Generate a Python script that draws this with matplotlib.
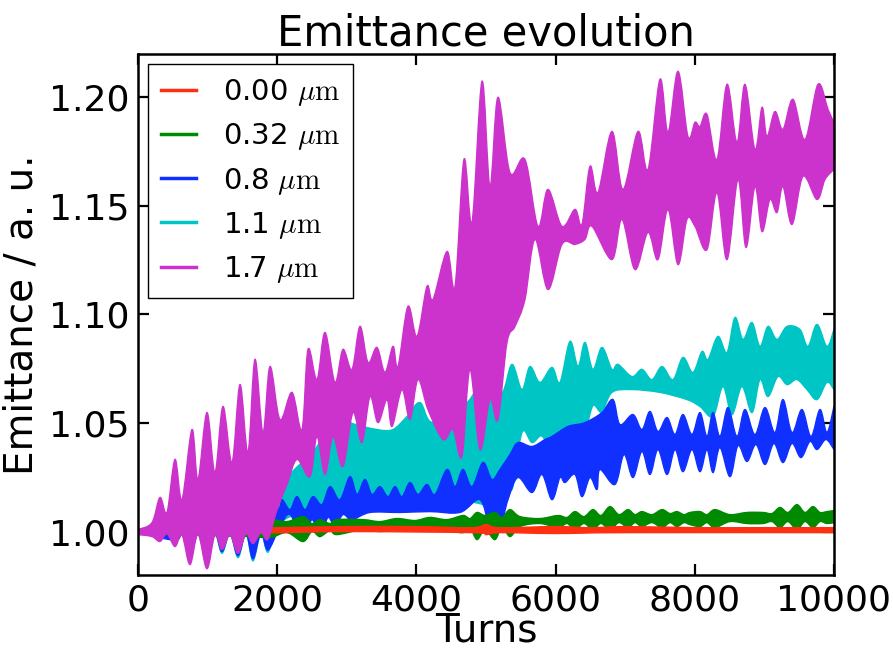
import numpy as np
import matplotlib
matplotlib.use('Agg')
import matplotlib.pyplot as plt
from matplotlib.lines import Line2D
from matplotlib.path import Path
from matplotlib.patches import PathPatch

plt.rcParams['mathtext.fontset'] = 'cm'

# envelope of the oscillating emittance for each offset (upper / lower edge)
labels = [r'0.00 $\mu\mathrm{m}$', r'0.32 $\mu\mathrm{m}$', r'0.8 $\mu\mathrm{m}$',
          r'1.1 $\mu\mathrm{m}$', r'1.7 $\mu\mathrm{m}$']
colors = ['#ff3010', '#008a00', '#1030ff', '#00c5c5', '#cc33cc']

# 0.00 um
r_hi_t = [0, 2000, 3000, 4000, 4800, 5000, 5200, 6000, 6500, 7000, 8000, 9000, 10000]
r_hi = [1.0009, 1.0018, 1.0023, 1.0023, 1.0018, 1.0032, 1.0018, 1.0023, 1.0018, 1.0023, 1.0018, 1.0018, 1.0018]
r_lo_t = [0, 2000, 3000, 4800, 5000, 5200, 6000, 7000, 10000]
r_lo = [0.9991, 0.9995, 1.0000, 0.9995, 0.9986, 0.9995, 0.9991, 0.9995, 0.9995]

# 0.32 um
g_hi_t = [0, 891, 1609, 1897, 2141, 2371, 2500, 2615, 2759, 2859, 3233, 3477, 3721, 3980,
          4195, 4440, 4670, 4770, 4871, 4986, 5129, 5230, 5345, 5489, 5776, 6034, 6164,
          6279, 6408, 6537, 6652, 6782, 6911, 7040, 7141, 7241, 7385, 7529, 7644, 7744,
          7845, 7931, 8075, 8175, 8290, 8506, 8750, 8980, 9109, 9224, 9339, 9468, 9583,
          9698, 9799, 9899, 10000]
g_hi = [1.0009, 1.0023, 1.0032, 1.0055, 1.0046, 1.0069, 1.0037, 1.0055, 1.0037, 1.0055,
        1.0055, 1.0046, 1.0060, 1.0051, 1.0065, 1.0055, 1.0074, 1.0060, 1.0088, 1.0074,
        1.0088, 1.0065, 1.0101, 1.0069, 1.0060, 1.0074, 1.0065, 1.0092, 1.0069, 1.0101,
        1.0074, 1.0115, 1.0078, 1.0101, 1.0078, 1.0092, 1.0078, 1.0101, 1.0083, 1.0092,
        1.0078, 1.0088, 1.0092, 1.0078, 1.0101, 1.0078, 1.0088, 1.0088, 1.0083, 1.0111,
        1.0088, 1.0124, 1.0088, 1.0115, 1.0088, 1.0092, 1.0097]
g_lo_t = g_hi_t
g_lo = [0.9991, 0.9982, 0.9977, 0.9972, 0.9995, 0.9954, 1.0000, 0.9977, 1.0005, 0.9986,
        1.0009, 1.0000, 1.0009, 1.0005, 1.0009, 1.0005, 0.9995, 1.0018, 0.9963, 1.0009,
        0.9963, 1.0023, 0.9977, 1.0023, 1.0037, 1.0018, 1.0037, 1.0009, 1.0037, 1.0009,
        1.0037, 1.0009, 1.0041, 1.0018, 1.0041, 1.0023, 1.0041, 1.0018, 1.0041, 1.0023,
        1.0041, 1.0032, 1.0023, 1.0041, 1.0018, 1.0046, 1.0037, 1.0037, 1.0046, 1.0018,
        1.0046, 1.0009, 1.0046, 1.0018, 1.0046, 1.0037, 1.0041]

# 0.8 um
b_hi_t = [0, 891, 1609, 2000, 2069, 2184, 2284, 2399, 2514, 2644, 2759, 2902, 3046, 3147,
          3261, 3362, 3477, 3592, 3693, 3793, 3908, 4023, 4152, 4267, 4440, 4555, 4670,
          4799, 4957, 5086, 5201, 5345, 5460, 5661, 5848, 5948, 6178, 6422, 6667, 6825,
          6925, 7112, 7241, 7356, 7471, 7601, 7716, 7830, 7960, 8075, 8175, 8262, 8362,
          8477, 8606, 8721, 8865, 9009, 9152, 9267, 9397, 9540, 9670, 9799, 9899, 10000]
b_hi = [1.0005, 1.0046, 1.0078, 1.0101, 1.0147, 1.0101, 1.0161, 1.0101, 1.0161, 1.0124,
        1.0207, 1.0147, 1.0253, 1.0171, 1.0240, 1.0171, 1.0207, 1.0161, 1.0207, 1.0161,
        1.0226, 1.0171, 1.0217, 1.0171, 1.0286, 1.0207, 1.0286, 1.0207, 1.0318, 1.0240,
        1.0286, 1.0355, 1.0410, 1.0392, 1.0424, 1.0438, 1.0484, 1.0502, 1.0548, 1.0608,
        1.0493, 1.0539, 1.0470, 1.0553, 1.0461, 1.0525, 1.0447, 1.0539, 1.0447, 1.0548,
        1.0438, 1.0548, 1.0438, 1.0571, 1.0438, 1.0562, 1.0447, 1.0571, 1.0456, 1.0608,
        1.0456, 1.0562, 1.0438, 1.0562, 1.0456, 1.0576]
b_lo_t = [0, 532, 632, 747, 862, 991, 1106, 1207, 1322, 1437, 1552, 1652, 1767, 1868,
          2040, 2184, 2371, 2500, 2615, 2730, 2830,
          2945, 3075, 3334, 3764, 4195, 4626, 4914, 5057, 5201, 5316, 5460, 5661, 5805,
          5948, 6063, 6135, 6279, 6379, 6494, 6595, 6638, 6853, 6983, 7112, 7241, 7356,
          7471, 7601, 7716, 7830, 7960, 8075, 8175, 8262, 8362, 8506, 8621, 8750, 8879,
          9009, 9138, 9267, 9397, 9526, 9655, 9756, 9885, 10000]
b_lo = [0.9995, 0.9960, 0.9992, 0.9885, 0.9992, 0.9880, 0.9992, 0.9908, 0.9992, 0.9890,
        0.9992, 0.9875, 0.9995, 0.9915,
        1.0023, 1.0078, 0.9963,
        1.0055, 0.9977, 1.0065, 1.0023, 1.0078, 1.0055, 1.0088, 1.0088, 1.0092, 1.0088,
        1.0147, 1.0018, 1.0018, 1.0147, 1.0249, 1.0180, 1.0263, 1.0147, 1.0249, 1.0226,
        1.0263, 1.0161, 1.0249, 1.0194, 1.0286, 1.0217, 1.0355, 1.0249, 1.0369, 1.0263,
        1.0378, 1.0263, 1.0378, 1.0276, 1.0378, 1.0276, 1.0378, 1.0272, 1.0387, 1.0253,
        1.0396, 1.0323, 1.0401, 1.0309, 1.0406, 1.0318, 1.0406, 1.0341, 1.0415, 1.0378,
        1.0424, 1.0378]

# 1.1 um
c_hi_t = [0, 891, 1466, 1897, 2011, 2213, 2543, 2859, 3046, 3434, 3664, 3865, 4052, 4239,
          4727, 4914, 5057, 5230, 5374, 5517, 5632, 5776, 5948, 6063, 6207, 6322, 6422,
          6537, 6667, 6810, 6897, 7098, 7241, 7385, 7529, 7687, 7830, 7974, 8103, 8190,
          8333, 8463, 8578, 8693, 8822, 8937, 9052, 9181, 9325, 9511, 9626, 9756, 9899, 10000]
c_hi = [1.0009, 1.0055, 1.0124, 1.0171, 1.0147, 1.0272, 1.0378, 1.0548, 1.0502, 1.0470,
        1.0470, 1.0530, 1.0594, 1.0502, 1.0594, 1.0700, 1.0760, 1.0641, 1.0770, 1.0654,
        1.0760, 1.0687, 1.0756, 1.0687, 1.0876, 1.0760, 1.0871, 1.0747, 1.0848, 1.0747,
        1.0770, 1.0714, 1.0747, 1.0700, 1.0760, 1.0700, 1.0802, 1.0733, 1.0829, 1.0793,
        1.0899, 1.0825, 1.0986, 1.0885, 1.0963, 1.0853, 1.0945, 1.0885, 1.0945, 1.0931,
        1.0853, 1.0954, 1.0853, 1.0931]
c_lo_t = [0, 640, 747, 862, 991, 1106, 1207, 1322, 1437, 1552, 1652, 1767, 1868, 2011,
          2471, 3089, 4052, 4957, 5101, 5244, 5374, 5517, 5661, 5805, 5948, 6063, 6207,
          6322, 6422, 6537, 6667, 6810, 7098, 7500, 7888, 8075, 8262, 8405, 8534, 8678,
          8822, 8937, 9052, 9195, 9325, 9468, 9612, 9756, 9899, 10000]
c_lo = [0.9991, 0.9990, 0.9875, 0.9990, 0.9870, 0.9990, 0.9900, 0.9990, 0.9880, 0.9990,
        0.9865, 0.9992, 0.9905, 1.0032, 1.0101, 1.0124, 1.0147, 1.0124, 1.0023, 1.0286,
        1.0194, 1.0456, 1.0410, 1.0440, 1.0364, 1.0470, 1.0400, 1.0500, 1.0460, 1.0580,
        1.0550, 1.0641, 1.0654, 1.0641, 1.0608, 1.0576, 1.0530, 1.0668, 1.0539, 1.0668,
        1.0548, 1.0700, 1.0622, 1.0714, 1.0677, 1.0700, 1.0654, 1.0608, 1.0687, 1.0654]

# 1.7 um
m_hi_t = [0, 201, 316, 417, 532, 632, 776, 862, 991, 1106, 1221, 1351, 1466, 1580, 1681,
          1796, 1897, 2040, 2213, 2356, 2443, 2572, 2687, 2830, 2945, 3075, 3190, 3305,
          3434, 3549, 3664, 3736, 3879, 4009, 4152, 4239, 4440, 4555, 4684, 4799, 4943,
          5057, 5172, 5345, 5560, 5747, 5891, 6092, 6279, 6379, 6494, 6609, 6810, 6968,
          7184, 7328, 7500, 7615, 7759, 7902, 8003, 8075, 8175, 8319, 8463, 8606, 8721,
          8865, 8966, 9037, 9152, 9267, 9411, 9583, 9770, 9914, 10000]
m_hi = [1.0009, 1.0041, 1.0157, 1.0088, 1.0332, 1.0147, 1.0470, 1.0240, 1.0548, 1.0272,
        1.0576, 1.0318, 1.0677, 1.0364, 1.0793, 1.0456, 1.0760, 1.0516, 1.0641, 1.0470,
        1.0839, 1.0700, 1.0917, 1.0687, 1.0839, 1.0747, 1.0945, 1.0779, 1.0848, 1.0733,
        1.0853, 1.0760, 1.1037, 1.0899, 1.1129, 1.1069, 1.1290, 1.1129, 1.1714, 1.1424,
        1.2074, 1.1590, 1.2000, 1.1654, 1.1714, 1.1406, 1.1576, 1.1406, 1.1484, 1.1415,
        1.1682, 1.1562, 1.1843, 1.1576, 1.1843, 1.1668, 1.2083, 1.1839, 1.2120, 1.1820,
        1.1885, 1.1866, 1.1922, 1.1714, 1.2060, 1.1793, 1.2060, 1.1760, 1.1954, 1.1820,
        1.1935, 1.1853, 1.1991, 1.1806, 1.2060, 1.1945, 1.1885]
m_lo_t = [0, 201, 316, 417, 532, 632, 747, 862, 991, 1106, 1207, 1322, 1437, 1552, 1652,
          1767, 1868, 1997, 2141, 2284, 2471, 2572, 2687, 2802, 2945, 3089, 3218, 3334,
          3448, 3578, 3650, 3793, 3908, 4023, 4167, 4382, 4526, 4655, 4770, 4914, 5057,
          5172, 5302, 5417, 5560, 5704, 5891, 6092, 6279, 6422, 6523, 6810, 6954, 7141,
          7328, 7471, 7615, 7759, 7888, 8003, 8175, 8319, 8463, 8621, 8736, 8865, 8966,
          9080, 9181, 9267, 9397, 9555, 9756, 9871, 10000]
m_lo = [0.9986, 0.9977, 0.9954, 0.9990, 0.9931, 0.9985, 0.9848, 0.9988, 0.9829, 0.9985,
        0.9917, 0.9985, 0.9900, 0.9990, 0.9945, 0.9995, 0.9965, 1.0100, 1.0217, 1.0332,
        1.0253, 1.0438, 1.0263, 1.0438, 1.0300, 1.0548, 1.0410, 1.0622, 1.0502, 1.0608,
        1.0484, 1.0654, 1.0516, 1.0700, 1.0562, 1.0424, 1.0470, 1.0346, 1.0747, 1.0378,
        1.0608, 1.0516, 1.0871, 1.0945, 1.1069, 1.1346, 1.1115, 1.1323, 1.1323, 1.1346,
        1.1406, 1.1253, 1.1438, 1.1207, 1.1378, 1.1253, 1.1484, 1.1230, 1.1438, 1.1406,
        1.1299, 1.1562, 1.1253, 1.1622, 1.1309, 1.1590, 1.1382, 1.1530, 1.1470, 1.1590,
        1.1415, 1.1636, 1.1530, 1.1622, 1.1668]

bands = [(r_hi_t, r_hi, r_lo_t, r_lo),
         (g_hi_t, g_hi, g_lo_t, g_lo),
         (b_hi_t, b_hi, b_lo_t, b_lo),
         (c_hi_t, c_hi, c_lo_t, c_lo),
         (m_hi_t, m_hi, m_lo_t, m_lo)]
zorders = [4, 3, 2, 1, 5]


def smooth_edge(xs, ys):
    # Catmull-Rom through the envelope points, as cubic Bezier segments
    p = np.column_stack([xs, ys]).astype(float)
    p = np.vstack([p[0], p, p[-1]])
    verts = []
    for i in range(1, len(p) - 2):
        c1 = p[i] + (p[i + 1] - p[i - 1]) / 6.0
        c2 = p[i + 1] - (p[i + 2] - p[i]) / 6.0
        verts += [c1, c2, p[i + 1]]
    return [p[1]], verts


def band_path(ht, hv, lt, lv):
    start, up = smooth_edge(ht, hv)
    lstart, down = smooth_edge(lt[::-1], lv[::-1])
    verts = start + up + lstart + down + [start[0]]
    codes = ([Path.MOVETO] + [Path.CURVE4] * len(up) + [Path.LINETO]
             + [Path.CURVE4] * len(down) + [Path.CLOSEPOLY])
    return Path(verts, codes)


fig = plt.figure(figsize=(8.93, 6.48), dpi=100)
ax = fig.add_axes([0.1545, 0.1127, 0.7794, 0.804])

for (ht, hv, lt, lv), col, z in zip(bands, colors, zorders):
    patch = PathPatch(band_path(ht, hv, lt, lv), facecolor=col, edgecolor=col,
                      lw=1.0, zorder=z)
    ax.add_patch(patch)

ax.set_xlim(0, 10000)
ax.set_ylim(0.98, 1.22)
ax.set_xticks([0, 2000, 4000, 6000, 8000, 10000])
ax.set_yticks([1.00, 1.05, 1.10, 1.15, 1.20])
ax.tick_params(direction='in', length=8, width=1.6, labelsize=26, pad=6,
               top=True, right=True)
for s in ax.spines.values():
    s.set_linewidth(1.8)
    s.set_zorder(12)

ax.set_title('Emittance evolution', fontsize=30, pad=6)
ax.set_xlabel('Turns', fontsize=28, labelpad=-4)
ax.set_ylabel('Emittance / a. u.', fontsize=28, labelpad=6)

handles = [Line2D([], [], color=c, lw=2.5) for c in colors]
leg = ax.legend(handles, labels, loc='upper left', fontsize=21, fancybox=False,
                framealpha=1, edgecolor='black', handlelength=1.2,
                borderaxespad=0.35, labelspacing=0.45, handletextpad=0.9,
                borderpad=0.45)
leg.get_frame().set_linewidth(1.0)
leg.set_zorder(10)

plt.savefig('out.png', dpi=100)
